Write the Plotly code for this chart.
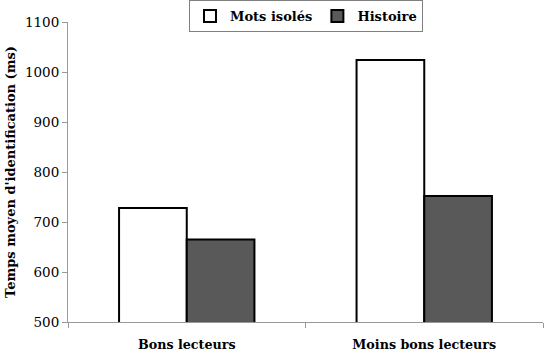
import plotly.graph_objects as go

categories = ["Bons lecteurs", "Moins bons lecteurs"]
mots_isoles = [728, 1024]
histoire = [665, 752]
series_names = ["Mots isolés", "Histoire"]
series_fills = ["white", "#595959"]
y_title = "Temps moyen d'identification (ms)"

SERIF = "DejaVu Serif"

W, H = 544, 356
L, R, T, B = 68, 1, 22, 34

fig = go.Figure()
for name, vals, fill in zip(series_names, [mots_isoles, histoire], series_fills):
    fig.add_trace(go.Bar(
        x=categories, y=vals, name=name,
        marker=dict(color=fill, line=dict(color="black", width=2)),
    ))

fig.update_layout(
    width=W, height=H,
    margin=dict(l=L, r=R, t=T, b=B, autoexpand=False),
    paper_bgcolor="white", plot_bgcolor="white",
    barmode="group", bargap=0.43, bargroupgap=0,
    font=dict(family=SERIF, color="black", size=13),
    showlegend=True,
    legend=dict(
        orientation="h", x=306 / W, xanchor="center", xref="container",
        y=1, yanchor="top", yref="container",
        bordercolor="#808080", borderwidth=1, bgcolor="white",
        font=dict(family=SERIF, size=13, weight="bold", color="black"),
        itemwidth=30, tracegroupgap=0,
    ),
)
fig.update_yaxes(
    range=[500, 1100], dtick=100, tick0=500,
    showgrid=False, zeroline=False,
    showline=True, linecolor="#999999", linewidth=1,
    ticks="outside", ticklen=5, tickcolor="#999999",
    tickfont=dict(family=SERIF, size=13.5),
    title=dict(text=y_title, font=dict(family=SERIF, size=13, weight="bold"), standoff=6),
)
fig.update_xaxes(
    showgrid=False, zeroline=False,
    showline=True, linecolor="#999999", linewidth=1,
    ticks="outside", ticklen=5, tickcolor="#999999",
    tickson="boundaries",
    tickfont=dict(family=SERIF, size=12.7, weight="bold"),
    ticklabelstandoff=11,
)

fig.write_html("out.html", config={"displayModeBar": False},
               post_script="document.body.style.margin='0';")
